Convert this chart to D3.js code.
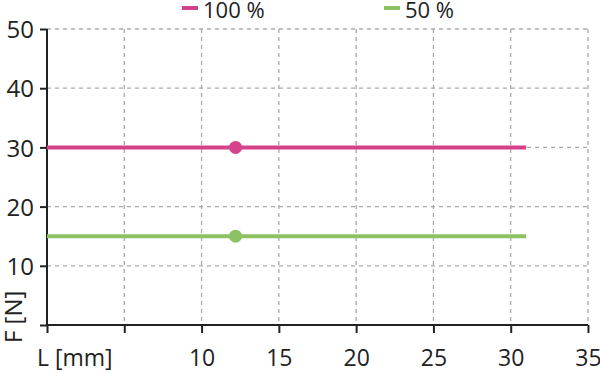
<!DOCTYPE html>
<html>
<head>
<meta charset="utf-8">
<script src="https://cdn.jsdelivr.net/npm/d3@7"></script>
<style>
  body { margin: 0; background: #fff; }
  text { font-family: "Open Sans", "Noto Sans", sans-serif; fill: #222; }
</style>
</head>
<body>
<div id="chart"></div>
<script>
// data
var seriesNames = ["100 %", "50 %"];
var seriesColors = ["#d6418b", "#8cc263"];
var forceValues = [30, 15];       // F [N], constant over the stroke
var strokeStart = [0, 0];         // L [mm]
var strokeEnd = [31, 31];
var markerL = [12.2, 12.2];       // point marker position
var xTicks = [0, 5, 10, 15, 20, 25, 30, 35];
var xTickLabels = ["", "", "10", "15", "20", "25", "30", "35"];
var yTicks = [0, 10, 20, 30, 40, 50];
var yTickLabels = ["", "10", "20", "30", "40", "50"];

var svgWidth = 600,
  svgHeight = 373,
  plotLeft = 47,
  plotRight = 588,
  plotTop = 29,
  plotBottom = 325,
  fontSize = 24,
  bottomFontSize = 23,
  legendFontSize = 22;

var svg = d3.select("#chart")
  .append("svg")
  .attr("width", svgWidth)
  .attr("height", svgHeight);

var x = d3.scaleLinear().domain([0, 35]).range([plotLeft, plotRight]);
var y = d3.scaleLinear().domain([0, 50]).range([plotBottom, plotTop]);

// dashed grid
svg.selectAll("line.vgrid")
  .data(xTicks.slice(1))
  .enter()
  .append("line")
  .attr("x1", function(d) { return x(d); })
  .attr("x2", function(d) { return x(d); })
  .attr("y1", plotTop)
  .attr("y2", plotBottom)
  .attr("stroke", "#aaa")
  .attr("stroke-width", 1.3)
  .attr("stroke-dasharray", "4,4");

svg.selectAll("line.hgrid")
  .data(yTicks.slice(1))
  .enter()
  .append("line")
  .attr("x1", plotLeft)
  .attr("x2", plotRight)
  .attr("y1", function(d) { return y(d); })
  .attr("y2", function(d) { return y(d); })
  .attr("stroke", "#aaa")
  .attr("stroke-width", 1.3)
  .attr("stroke-dasharray", "4,4");

// axes
var xAxis = svg.append("g")
  .attr("transform", "translate(0," + plotBottom + ")")
  .call(d3.axisBottom(x).tickValues(xTicks).tickSize(8)
    .tickFormat(function(d, i) { return xTickLabels[i]; }));
xAxis.select(".domain").attr("stroke", "#222").attr("stroke-width", 2).attr("d", "M" + plotLeft + ",0H" + plotRight);
xAxis.selectAll(".tick line").attr("stroke", "#222").attr("stroke-width", 2);
xAxis.selectAll(".tick text")
  .attr("y", 41)
  .attr("dy", 0)
  .style("font-size", bottomFontSize + "px")
  .style("font-family", "'Open Sans', 'Noto Sans', sans-serif")
  .attr("fill", "#222");

var yAxis = svg.append("g")
  .attr("transform", "translate(" + plotLeft + ",0)")
  .call(d3.axisLeft(y).tickValues(yTicks).tickSize(7)
    .tickFormat(function(d, i) { return yTickLabels[i]; }));
yAxis.select(".domain").attr("stroke", "#222").attr("stroke-width", 2).attr("d", "M0," + plotTop + "V" + plotBottom);
yAxis.selectAll(".tick line").attr("stroke", "#222").attr("stroke-width", 2);
yAxis.selectAll(".tick text")
  .attr("x", -13)
  .attr("dy", "0.36em")
  .style("font-size", fontSize + "px")
  .style("font-family", "'Open Sans', 'Noto Sans', sans-serif")
  .attr("fill", "#222");

// axis titles
svg.append("text")
  .text("L [mm]")
  .attr("x", 37)
  .attr("y", 366)
  .attr("font-size", bottomFontSize + "px");

svg.append("text")
  .text("F [N]")
  .attr("transform", "translate(22,343) rotate(-90)")
  .attr("font-size", fontSize + "px");

// series lines + markers
svg.selectAll("line.series")
  .data(forceValues)
  .enter()
  .append("line")
  .attr("x1", function(d, i) { return x(strokeStart[i]); })
  .attr("x2", function(d, i) { return x(strokeEnd[i]); })
  .attr("y1", function(d) { return y(d); })
  .attr("y2", function(d) { return y(d); })
  .attr("stroke", function(d, i) { return seriesColors[i]; })
  .attr("stroke-width", 4);

svg.selectAll("circle.marker")
  .data(forceValues)
  .enter()
  .append("circle")
  .attr("cx", function(d, i) { return x(markerL[i]); })
  .attr("cy", function(d) { return y(d); })
  .attr("r", 6.5)
  .attr("fill", function(d, i) { return seriesColors[i]; });

// legend
var legendX = [182, 384];
svg.selectAll("line.legend")
  .data(seriesNames)
  .enter()
  .append("line")
  .attr("x1", function(d, i) { return legendX[i]; })
  .attr("x2", function(d, i) { return legendX[i] + 16; })
  .attr("y1", 8)
  .attr("y2", 8)
  .attr("stroke", function(d, i) { return seriesColors[i]; })
  .attr("stroke-width", 4);

svg.selectAll("text.legend")
  .data(seriesNames)
  .enter()
  .append("text")
  .text(function(d) { return d; })
  .attr("x", function(d, i) { return legendX[i] + 21; })
  .attr("y", 18)
  .attr("font-size", legendFontSize + "px");
</script>
</body>
</html>
